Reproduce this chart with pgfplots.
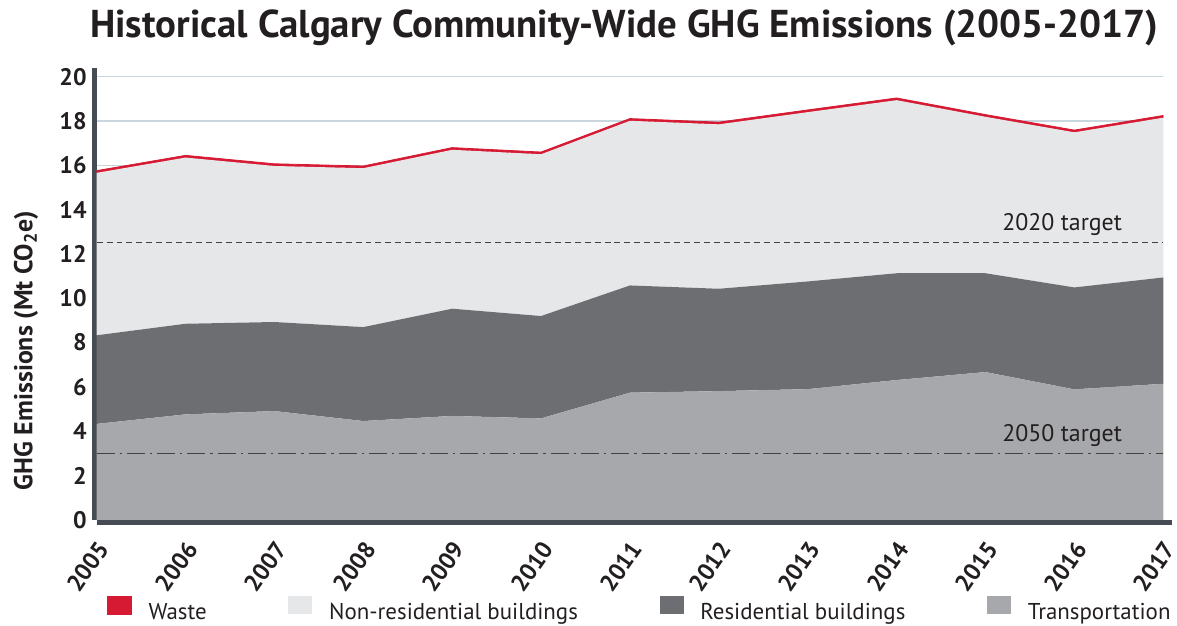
\documentclass[border=0pt]{standalone}
\usepackage{fontspec}
\setmainfont{PT Sans}
\usepackage{pgfplots}
\usepackage{pgfplotstable}
\pgfplotsset{compat=1.18}
\usetikzlibrary{calc}

\definecolor{transp}{HTML}{A7A8AB}
\definecolor{resid}{HTML}{6D6E71}
\definecolor{nonres}{HTML}{E6E7E8}
\definecolor{waste}{HTML}{D71A33}
\definecolor{axisline}{HTML}{454C54}
\definecolor{gridc}{HTML}{C9D6DE}
\definecolor{txt}{HTML}{231F20}

% Mt CO2e, stacked from the bottom
\pgfplotstableread{
year transport residential nonres waste
2005 4.33 4.00 7.33 0.10
2006 4.76 4.09 7.50 0.10
2007 4.91 4.02 7.04 0.10
2008 4.46 4.24 7.17 0.10
2009 4.69 4.84 7.17 0.10
2010 4.58 4.62 7.30 0.10
2011 5.74 4.84 7.43 0.10
2012 5.81 4.62 7.42 0.10
2013 5.90 4.86 7.64 0.10
2014 6.31 4.82 7.81 0.10
2015 6.67 4.46 7.06 0.10
2016 5.89 4.60 7.00 0.10
2017 6.14 4.80 7.21 0.10
}\emissions

\pgfplotsset{
  base/.style={
    width=535.5pt, height=222.5pt, scale only axis,
    xmin=2005, xmax=2017, ymin=0, ymax=20,
  },
}

\begin{document}
\begin{tikzpicture}[every node/.style={text=txt}]
\begin{axis}[base, name=main,
    stack plots=y,
    axis x line=bottom, axis y line=left,
    axis line style={-, line width=2.5pt, color=axisline},
    x axis line style={yshift=-1.2pt, shorten >=-4.5pt},
    y axis line style={xshift=-1pt, shorten >=-4.5pt},
    xtick={2005,...,2017}, ytick distance=2,
    major tick length=0pt,
    /pgf/number format/1000 sep={},
    /pgf/number format/assume math mode=true,
    ticklabel style={font=\bfseries\fontsize{12}{12}\selectfont, text=txt},
    xticklabel style={anchor=east, inner sep=0pt, xshift=3.5pt, yshift=-12pt, rotate=55},
    yticklabel style={xshift=-1.5pt},
    ymajorgrids, grid style={gridc, line width=0.6pt},
    reverse legend, legend columns=4,
    legend style={at={(rel axis cs:0.0093,-0.2022)}, anchor=west,
      draw=none, fill=none, inner sep=0pt,
      font=\fontsize{11.5}{12}\selectfont,
      nodes={inner sep=0pt, text=txt},
      /tikz/every odd column/.append style={column sep=8.5pt},
      /tikz/every even column/.append style={column sep=41pt}},
    legend image code/.code={\fill[#1] (0pt,-0.3pt) rectangle (12pt,8.5pt);},
  ]
  \addplot[fill=transp, draw=none] table[x=year, y=transport] {\emissions} \closedcycle;
  \addlegendentry{Transportation}
  \addplot[fill=resid, draw=none] table[x=year, y=residential] {\emissions} \closedcycle;
  \addlegendentry{Residential buildings}
  \addplot[fill=nonres, draw=none] table[x=year, y=nonres] {\emissions} \closedcycle;
  \addlegendentry{Non-residential buildings}
  \addplot[fill=waste, draw=waste, line width=0.4pt] table[x=year, y=waste] {\emissions} \closedcycle;
  \addlegendentry{Waste}
\end{axis}

\begin{axis}[base, hide axis, clip=false]
  \addplot[txt!85, line width=0.6pt, dash pattern=on 3pt off 2pt] coordinates {(2005,12.5) (2017,12.5)};
  \addplot[txt!85, line width=0.6pt, dash pattern=on 9pt off 2.5pt on 1.2pt off 2.5pt] coordinates {(2005,3.0) (2017,3.0)};
  \node[anchor=base east, font=\fontsize{12}{12}\selectfont, inner sep=0pt, yshift=6pt] at (axis cs:2016.54,12.5) {2020 target};
  \node[anchor=base east, font=\fontsize{12}{12}\selectfont, inner sep=0pt, yshift=6pt] at (axis cs:2016.54,3.0) {2050 target};
  \node[xshift=-35.5pt, rotate=90, font=\bfseries\fontsize{13}{14}\selectfont, inner sep=0pt] at (rel axis cs:0,0.382) {GHG Emissions (Mt CO\textsubscript{2}e)};
  \node[anchor=base, font=\bfseries\fontsize{19.5}{22}\selectfont, inner sep=0pt, xshift=-2.75pt, yshift=19.5pt] at (rel axis cs:0.5,1) {Historical Calgary Community-Wide GHG Emissions (2005-2017)};
\end{axis}

\path ($(main.south west)+(-48.5pt,-53pt)$) rectangle ++(588.5pt,314pt);
\end{tikzpicture}
\end{document}
